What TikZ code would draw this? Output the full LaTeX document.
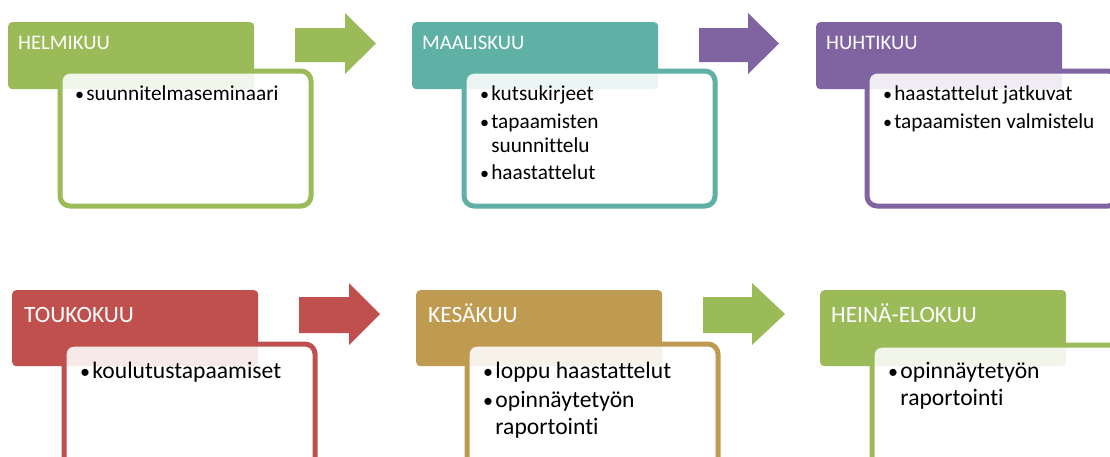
\documentclass[tikz,border=0pt]{standalone}
\usepackage{fontspec}
\setmainfont{Carlito}[Ligatures={NoCommon}]
\definecolor{cgreen}{HTML}{9BBB59}
\definecolor{cteal}{HTML}{5FB0A5}
\definecolor{cpurple}{HTML}{8064A2}
\definecolor{cred}{HTML}{C0504D}
\definecolor{cgold}{HTML}{BF9B52}
\newcommand{\bl}{\makebox[0.52em][l]{\scalebox{0.85}{•}}}
\newcommand{\ind}{\hspace*{0.52em}}
\tikzset{
  hdr/.style={rounded corners=4pt, draw=none, inner sep=0pt, anchor=north west, minimum width=246pt},
  hdrtop/.style={hdr, minimum height=67pt},
  hdrbot/.style={hdr, minimum height=76pt},
  cbox/.style={rounded corners=10pt, line width=5pt, fill=white, fill opacity=0.88, draw opacity=1, inner sep=0pt, anchor=north west, minimum width=251pt},
  ttltop/.style={text=white, font=\fontsize{20.7}{24}\selectfont, inner sep=0pt, anchor=base west},
  ttlbot/.style={text=white, font=\fontsize{23.4}{26}\selectfont, inner sep=0pt, anchor=base west},
  itmtop/.style={text=black, font=\fontsize{21.3}{24}\selectfont, inner sep=0pt, anchor=base west},
  itmbot/.style={text=black, font=\fontsize{23.6}{27.5}\selectfont, inner sep=0pt, anchor=base west},
}
\begin{document}
\begin{tikzpicture}[x=1pt,y=-1pt]
\useasboundingbox (0,0) rectangle (1110,456);
\clip (0,0) rectangle (1110,456);
\fill[white] (0,0) rectangle (1110,456);
% headers
\node[hdrtop, fill=cgreen] (h1) at (8,22) {};
\node[hdrtop, fill=cteal] (h2) at (412,22) {};
\node[hdrtop, fill=cpurple] (h3) at (816,22) {};
\node[hdrbot, fill=cred] (h4) at (12,290) {};
\node[hdrbot, fill=cgold] (h5) at (416,290) {};
\node[hdrbot, fill=cgreen] (h6) at (820,290) {};
% content boxes
\node[cbox, draw=cgreen, minimum height=135pt] (b1) at (57.5,68.5) {};
\node[cbox, draw=cteal, minimum height=135pt] (b2) at (461.5,68.5) {};
\node[cbox, draw=cpurple, minimum height=135pt] (b3) at (864.5,68.5) {};
\node[cbox, draw=cred, minimum height=170pt] (b4) at (61.5,341.5) {};
\node[cbox, draw=cgold, minimum height=170pt] (b5) at (464.5,341.5) {};
\node[cbox, draw=cgreen, minimum height=170pt] (b6) at (869.5,342.5) {};
% arrows
\fill[cgreen] (295,28) -- (345,28) -- (345,13) -- (376,43.5) -- (345,74) -- (345,62) -- (295,62) -- cycle;
\fill[cpurple] (699,28) -- (748,28) -- (748,13) -- (779,43.5) -- (748,74) -- (748,62) -- (699,62) -- cycle;
\fill[cred] (299,297) -- (349,297) -- (349,283) -- (380,314) -- (349,345) -- (349,333) -- (299,333) -- cycle;
\fill[cgreen] (703,297) -- (752,297) -- (752,283) -- (785,314) -- (752,345) -- (752,333) -- (703,333) -- cycle;
% titles
\node[ttltop] (t1) at (18,49) {HELMIKUU};
\node[ttltop] (t2) at (422,49) {MAALISKUU};
\node[ttltop] (t3) at (826,49) {HUHTIKUU};
\node[ttlbot] (t4) at (24,322) {TOUKOKUU};
\node[ttlbot] (t5) at (428,322) {KESÄKUU};
\node[ttlbot] (t6) at (831,322) {HEINÄ-ELOKUU};
% items
\node[itmtop] (c1) at (75,100) {\parbox[t]{230pt}{\raggedright\bl suunnitelmaseminaari}};
\node[itmtop] (c2) at (480,100) {\parbox[t]{230pt}{\raggedright\bl kutsukirjeet\\[4pt]\bl tapaamisten\\\ind suunnittelu\\[3pt]\bl haastattelut}};
\node[itmtop] (c3) at (883,100) {\parbox[t]{230pt}{\raggedright\bl haastattelut jatkuvat\\[4pt]\bl tapaamisten valmistelu}};
\node[itmbot] (c4) at (80,378) {\parbox[t]{230pt}{\raggedright\bl koulutustapaamiset}};
\node[itmbot] (c5) at (483,378) {\parbox[t]{230pt}{\raggedright\bl loppu haastattelut\\[1.5pt]\bl opinnäytetyön\\\ind raportointi}};
\node[itmbot] (c6) at (888,378) {\parbox[t]{230pt}{\raggedright\bl opinnäytetyön\\\ind raportointi}};
\end{tikzpicture}
\end{document}
